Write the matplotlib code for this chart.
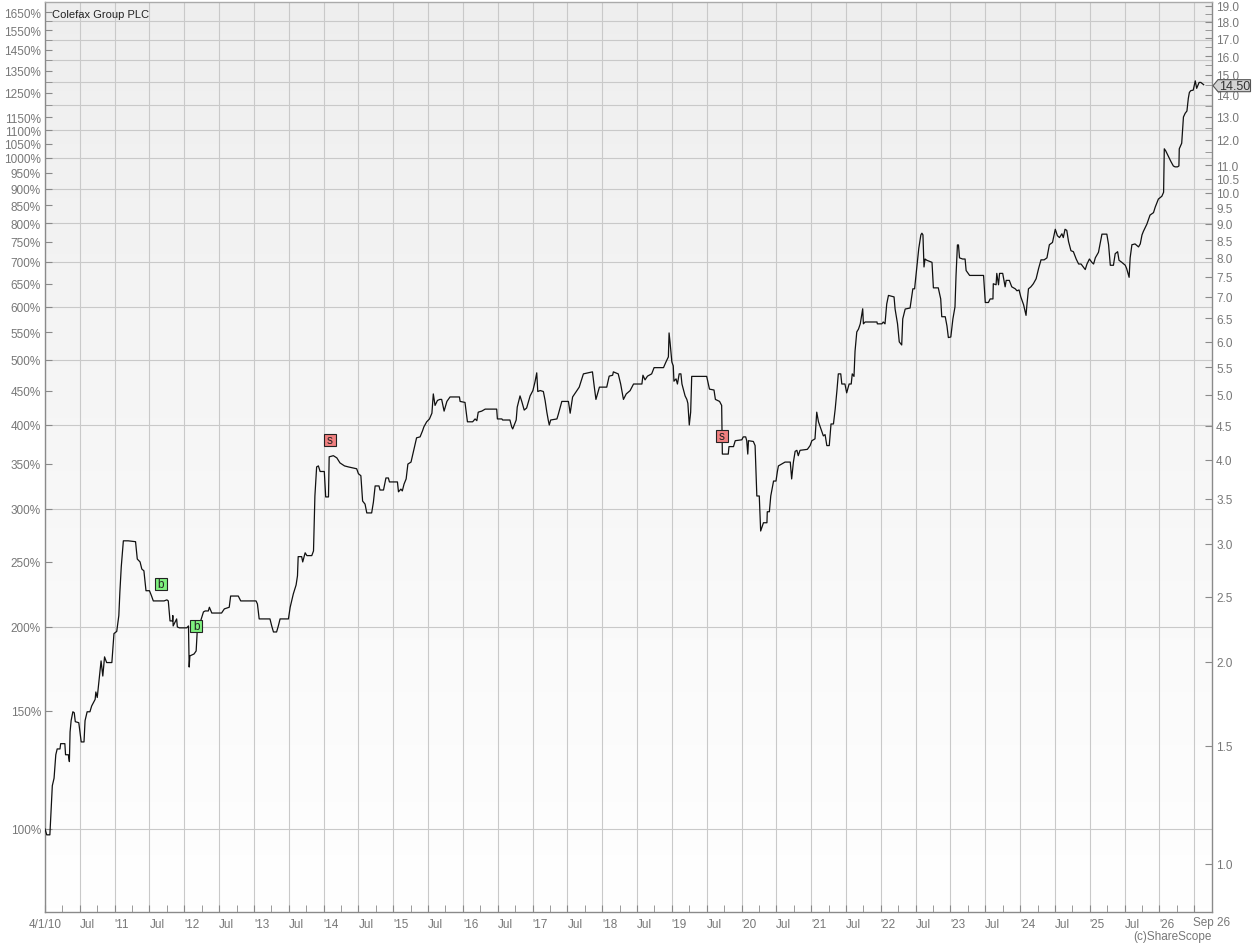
import matplotlib
matplotlib.use('Agg')
import matplotlib.pyplot as plt
import numpy as np
from matplotlib.ticker import FixedLocator, FixedFormatter, NullFormatter
from matplotlib.patches import Polygon

plt.rcParams['font.family'] = ['Liberation Sans', 'DejaVu Sans']

# ---- data (x in half-year periods from 4/1/10, y in % of start price) ----
period = [0.00,0.05,0.14,0.21,0.26,0.31,0.35,0.43,0.45,0.57,0.59,0.67,0.70,0.72,0.75,0.80,0.84,0.87,0.97,1.04,
          1.12,1.15,1.21,1.29,1.34,1.44,1.46,1.50,1.61,1.66,1.71,1.77,1.92,1.98,2.06,2.12,2.15,2.19,2.25,2.39,
          2.60,2.65,2.73,2.78,2.84,2.90,3.00,3.06,3.11,3.42,3.50,3.54,3.59,3.66,3.67,3.68,3.78,3.80,3.86,4.07,
          4.12,4.14,4.16,4.28,4.34,4.37,4.55,4.60,4.69,4.72,4.79,5.07,5.15,5.29,5.33,5.55,5.62,6.06,6.10,6.15,
          6.46,6.51,6.56,6.65,6.70,6.75,6.99,7.04,7.13,7.21,7.25,7.27,7.37,7.40,7.47,7.52,7.66,7.71,7.75,7.80,
          7.85,7.90,8.02,8.06,8.14,8.16,8.28,8.38,8.47,8.60,8.71,8.95,9.00,9.07,9.12,9.19,9.24,9.38,9.43,9.48,
          9.59,9.62,9.72,9.79,9.86,9.89,10.12,10.15,10.22,10.26,10.31,10.37,10.42,10.51,10.58,10.67,10.77,10.84,10.88,10.96,
          11.04,11.11,11.15,11.20,11.27,11.34,11.39,11.46,11.54,11.63,11.90,11.92,12.06,12.13,12.28,12.35,12.40,12.44,12.54,12.64,
          12.97,12.99,13.12,13.14,13.35,13.40,13.43,13.53,13.56,13.64,13.69,13.76,13.83,13.93,14.01,14.07,14.12,14.15,14.22,14.31,
          14.36,14.41,14.45,14.48,14.52,14.70,14.74,14.84,15.03,15.08,15.15,15.27,15.34,15.46,15.72,15.77,15.82,15.92,16.13,16.20,
          16.30,16.32,16.46,16.53,16.61,16.69,16.80,16.90,17.14,17.17,17.23,17.30,17.42,17.49,17.76,17.83,17.90,17.92,17.95,18.00,
          18.04,18.06,18.12,18.16,18.21,18.26,18.29,18.38,18.43,18.46,18.50,18.54,18.57,19.00,19.08,19.21,19.25,19.37,19.43,19.45,
          19.62,19.64,19.77,19.82,20.01,20.05,20.12,20.15,20.18,20.20,20.34,20.39,20.44,20.51,20.55,20.63,20.73,20.74,20.80,20.84,
          20.92,20.99,21.03,21.06,21.25,21.40,21.44,21.49,21.54,21.59,21.63,21.68,21.89,21.97,22.02,22.11,22.16,22.21,22.31,22.35,
          22.40,22.45,22.52,22.57,22.64,22.69,22.74,22.78,22.85,22.88,22.97,23.02,23.09,23.15,23.18,23.23,23.26,23.31,23.36,23.41,
          23.48,23.50,23.55,23.89,23.90,24.03,24.07,24.12,24.17,24.22,24.38,24.41,24.48,24.53,24.60,24.63,24.70,24.84,24.92,24.97,
          25.01,25.05,25.09,25.15,25.18,25.21,25.24,25.27,25.32,25.47,25.51,25.65,25.72,25.75,25.85,25.90,25.94,26.01,26.07,26.13,
          26.16,26.20,26.23,26.26,26.35,26.42,26.45,26.55,26.95,27.00,27.09,27.14,27.22,27.23,27.31,27.33,27.38,27.41,27.50,27.57,
          27.60,27.69,27.76,27.86,27.91,27.97,28.02,28.10,28.17,28.19,28.24,28.31,28.38,28.46,28.53,28.60,28.69,28.77,28.84,28.93,
          29.01,29.07,29.13,29.20,29.24,29.29,29.34,29.39,29.46,29.53,29.61,29.68,29.75,29.87,29.92,29.99,30.06,30.11,30.16,30.25,
          30.35,30.49,30.54,30.59,30.68,30.73,30.80,30.84,30.92,31.02,31.06,31.13,31.16,31.21,31.30,31.40,31.45,31.50,31.54,31.64,
          31.73,31.83,31.88,31.97,32.07,32.12,32.14,32.18,32.26,32.33,32.40,32.45,32.52,32.56,32.57,32.64,32.69,32.74,32.79,32.83,
          32.86,32.90,32.97,33.03,33.07,33.14,33.19,33.27]
pct = [100,98,98,116,119,129,131.6,131.6,134,134,129,129,126,139.5,145,149.5,149,144.5,144,134.8,
       134.8,145,149.5,149.5,152.5,156,160,157,178,169,180.5,177,177,195.5,197,208,225.5,246,268.8,268.8,
       268,252.5,250,244,242.5,226.5,226.5,222.4,218.7,218.7,219.5,218.7,204.2,204.2,208,200.7,205.6,200,199.4,199.4,
       200.7,174.3,181.1,182.3,184.2,196.6,210.6,211.3,211.3,214,209.8,209.8,212.8,214,222.4,222.4,218.7,218.7,216.4,205.6,
       205.6,200.7,196.6,196.6,200.7,205.6,205.6,214,224,231,238.4,254.6,254.6,250,258,255.5,255.5,259.6,313.5,346.4,
       347.6,341,341,312.5,312.5,358.6,360,357.3,351.2,347.6,346.4,344.2,338.4,336.1,308.1,304.9,295.8,295.8,307,324.5,
       324.5,320,320,333.5,333.5,329,329,318,321,319,326.6,332.4,349.8,352.2,365.4,382.8,384,392,397.5,404.4,
       408.4,416.5,445,427.8,435.2,436.7,436.7,419.5,433.7,440.4,440.4,433.7,432.2,404.4,404.4,408.4,406,418,419.5,422.4,
       422.4,408.4,408.4,406.9,406.9,397.5,394.6,406.9,425.3,442,433.7,421,424,442,450.2,463.8,478.4,448.7,450.2,448.7,
       435.2,418,406.9,400,406.9,408.4,415,433.7,433.7,416.5,440.4,450,455.5,476.7,480,457,436.7,455.5,455.5,473,
       474.5,480,476.7,460.4,436.7,445,450,460.4,460.4,474.5,467,473,476.7,487,487,496.5,505.3,548.6,530,496.5,
       490,464.9,468.6,460.4,476.7,476.7,460.4,442,436.7,430.8,400,418,472.6,472.6,452.4,451,436.7,433.7,427.8,362,
       362,371.4,371.4,379,380.2,384,384,379,362,379,378,372.7,313.5,313.5,278,286,286,297,297,313.5,
       330,330,341,347.6,352.2,352.2,332.4,352.2,365.4,366.7,360,366.7,367.9,372.7,379,381.4,418,404.4,390.7,385.3,
       387,372.7,372.7,401.4,401.4,422.4,450.2,476.7,476.7,460.4,460.4,446.6,460.4,460.4,476.7,472.6,515.3,550.5,556,566,
       596,566,569.6,569.6,566,566,569.6,566,606,624,620.8,595.5,566,532,526.4,575.7,595.5,597.6,638.3,638.3,
       668.3,699,733,768,772.5,768,688,707,704,699,640.4,640.4,616.5,580,580,561.7,540,541,575.7,600,
       668.3,742,742,709.8,707,707,679.6,668.3,668.3,609,609,616.5,616.5,649.5,647.2,673,647.2,673,673,642.7,
       657,657,642.7,638.3,634,635.8,620.8,604.3,582.7,600,638.3,642.7,649.5,660.8,684.2,705,705,709.8,742.5,748.4,
       783,766,761,771,761,783,780,750.9,727.5,725,707,695,695,681.9,695,707,699,695,710,723.5,
       770,770,743,692,692,720,725,704,699,692,684,664,710,742.5,744.6,737,744.6,768,777.4,797,
       822,829,845,868.5,877,889,1032,1025,1005,988,973,970,970,973,1032,1052,1151,1166,1175,1227,
       1252,1260,1262,1303,1270,1296,1296,1286]

buy_t = [3.33, 4.34]
buy_pct = [231.9, 200.7]
sell_t = [8.18, 19.44]
sell_pct = [380.0, 385.3]

base_price = 1.1275       # price equal to 100%
last_price = 14.50

x_labels = ['4/1/10', 'Jul', "'11", 'Jul', "'12", 'Jul', "'13", 'Jul', "'14", 'Jul', "'15", 'Jul',
            "'16", 'Jul', "'17", 'Jul', "'18", 'Jul', "'19", 'Jul', "'20", 'Jul', "'21", 'Jul',
            "'22", 'Jul', "'23", 'Jul', "'24", 'Jul', "'25", 'Jul', "'26", '']
end_label = 'Sep 26'
x_max = 33.51

left_label_vals = [100, 150, 200, 250, 300, 350, 400, 450, 500, 550, 600, 650, 700, 750, 800, 850,
                   900, 950, 1000, 1050, 1100, 1150, 1250, 1350, 1450, 1550, 1650]
left_plain_ticks = [1200, 1300, 1400, 1500, 1600]
grid_vals = [100, 200, 300, 400, 500, 600, 700, 800, 900, 1000, 1100, 1200, 1300, 1400, 1500, 1600]
right_label_vals = [1.0, 1.5, 2.0, 2.5, 3.0, 3.5, 4.0, 4.5, 5.0, 5.5, 6.0, 6.5, 7.0, 7.5, 8.0, 8.5,
                    9.0, 9.5, 10.0, 10.5, 11.0, 12.0, 13.0, 14.0, 15.0, 16.0, 17.0, 18.0, 19.0]
right_minor_vals = [11.5, 12.5, 13.5, 14.5, 15.5, 16.5, 17.5, 18.5]
y_min, y_max = 75.2, 1708

# ---- figure ----
W, H = 1252, 945
fig = plt.figure(figsize=(W / 100, H / 100), dpi=100)
L, R, T, B = 45, 1212, 3, 913
rect = [L / W, 1 - B / H, (R - L) / W, (B - T) / H]

bg = fig.add_axes(rect, zorder=0)
grad = np.linspace(1.0, 0.935, 256).reshape(-1, 1)
grad = np.clip(grad, 0, 1)
bg.imshow(np.dstack([grad, grad, grad]), extent=[0, 1, 0, 1], aspect='auto', origin='lower')
bg.axis('off')

ax = fig.add_axes(rect, zorder=1)
ax.set_facecolor('none')
ax.set_yscale('log')
ax.set_xlim(0, x_max)
ax.set_ylim(y_min, y_max)

gcol = '#c9c9c9'
for v in grid_vals:
    ax.axhline(v, color=gcol, lw=0.8, zorder=1)
for i in range(len(x_labels)):
    ax.axvline(i, color=gcol, lw=0.8, zorder=1)

ax.plot(period, pct, color='#111111', lw=0.9, zorder=3)

# trade markers
ax.plot(buy_t, buy_pct, ls='none', marker='s', ms=8.6, mfc='#7ff07f', mec='#222222', mew=0.8, zorder=5)
ax.plot(sell_t, sell_pct, ls='none', marker='s', ms=8.6, mfc='#f08080', mec='#222222', mew=0.8, zorder=5)
for t, v in zip(buy_t, buy_pct):
    ax.text(t, v, 'b', ha='center', va='center', fontsize=8.5, color='#222222', zorder=6)
for t, v in zip(sell_t, sell_pct):
    ax.text(t, v, 's', ha='center', va='center', fontsize=8.5, color='#222222', zorder=6)

tcol = '#777777'
scol = '#8a8a8a'
for s in ax.spines.values():
    s.set_color(scol)
    s.set_linewidth(1.0)
ax.spines['top'].set_color('#aaaaaa')

# x axis
ax.xaxis.set_major_locator(FixedLocator(list(range(len(x_labels)))))
ax.xaxis.set_major_formatter(FixedFormatter(x_labels))
ax.xaxis.set_minor_locator(FixedLocator([i + 0.5 for i in range(len(x_labels) - 1)]))
ax.tick_params(axis='x', which='both', direction='in', length=5, color=scol, labelsize=8.5,
               labelcolor=tcol, pad=4)
for i, lab in enumerate(ax.get_xticklabels()):
    lab.set_ha('center' if i == 0 else 'left')
ax.text(x_max, -0.0047, end_label, transform=ax.get_xaxis_transform(), ha='center', va='top',
        fontsize=8.5, color=tcol)

# left y axis
ax.yaxis.set_major_locator(FixedLocator(left_label_vals))
ax.yaxis.set_major_formatter(FixedFormatter([f'{v}%' for v in left_label_vals]))
ax.yaxis.set_minor_locator(FixedLocator(left_plain_ticks))
ax.yaxis.set_minor_formatter(NullFormatter())
ax.tick_params(axis='y', which='both', direction='in', length=5, color=scol, labelsize=8.5,
               labelcolor=tcol, pad=3)
for v, tk in zip(left_label_vals, ax.yaxis.get_major_ticks()):
    if v > 1100:
        tk.tick1line.set_visible(False)

# right y axis (price)
ax2 = ax.twinx()
ax2.set_yscale('log')
ax2.set_ylim(y_min * base_price / 100, y_max * base_price / 100)
ax2.yaxis.set_major_locator(FixedLocator(right_label_vals))
ax2.yaxis.set_major_formatter(FixedFormatter([f'{v:.1f}' for v in right_label_vals]))
ax2.yaxis.set_minor_locator(FixedLocator(right_minor_vals))
ax2.yaxis.set_minor_formatter(NullFormatter())
ax2.tick_params(axis='y', which='both', direction='in', length=5, color=scol, labelsize=8.5,
                labelcolor=tcol, pad=3)
for s in ax2.spines.values():
    s.set_visible(False)

ax.text(0.006, 0.9925, 'Colefax Group PLC', transform=ax.transAxes, ha='left', va='top',
        fontsize=8, color='#222222', zorder=6)
fig.text(R / W, 1 - 937 / H, '(c)ShareScope', ha='right', va='center', fontsize=8.5, color=tcol)

# current price marker
fig.canvas.draw()
yd = ax2.transData.transform((0, last_price))[1] - 1
x0 = R + 1
poly = Polygon([(x0, yd), (x0 + 5, yd + 6), (W - 1.5, yd + 6), (W - 1.5, yd - 6), (x0 + 5, yd - 6)],
               closed=True, transform=None, fc='#d2d2d2', ec='#555555', lw=0.8, zorder=10)
fig.add_artist(poly)
fig.text((x0 + 5 + (W - 1.5)) / 2 / W, yd / H, f'{last_price:.2f}', ha='center', va='center',
         fontsize=9, color='#333333', zorder=11)

fig.savefig('out.png', dpi=100)
